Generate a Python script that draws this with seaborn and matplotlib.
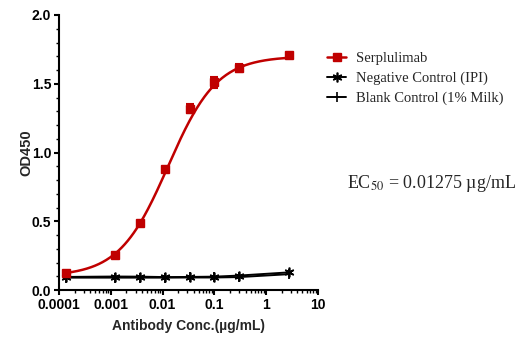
import numpy as np
import pandas as pd
import seaborn as sns
import matplotlib.pyplot as plt
from matplotlib.lines import Line2D
from matplotlib.ticker import LogLocator, MultipleLocator, FixedLocator, NullFormatter

# concentrations (ug/mL)
conc = [0.000137, 0.00123, 0.0037, 0.0111, 0.0333, 0.1, 0.3, 2.7]
serp = [0.125, 0.258, 0.489, 0.883, 1.32, 1.51, 1.615, 1.712]
serp_err = [0.01, 0.012, 0.012, 0.012, 0.03, 0.04, 0.03, 0.015]
neg_ctrl = [0.095, 0.098, 0.097, 0.094, 0.095, 0.097, 0.105, 0.128]
blank_ctrl = [0.090, 0.090, 0.090, 0.090, 0.091, 0.091, 0.094, 0.115]

# 4PL fit parameters for Serplulimab
bottom, top, ec50, hill = 0.10, 1.70, 0.01275, 0.92

red = '#c00000'

sns.set_style('ticks')
plt.rcParams['font.family'] = ['Liberation Sans', 'DejaVu Sans']

fig = plt.figure(figsize=(5.23, 3.5), dpi=100)
ax = fig.add_axes([59 / 523, 1 - 290 / 350, (318 - 59) / 523, (290 - 15) / 350])

xs = np.logspace(np.log10(conc[0]), np.log10(conc[-1]), 300)
fit = pd.DataFrame({'x': xs, 'y': bottom + (top - bottom) / (1 + (ec50 / xs) ** hill)})
sns.lineplot(data=fit, x='x', y='y', ax=ax, color=red, lw=1.8)

df = pd.DataFrame({'conc': conc, 'serp': serp, 'neg': neg_ctrl, 'blank': blank_ctrl})
sns.lineplot(data=df, x='conc', y='blank', ax=ax, color='black', lw=1.4,
             marker='|', markersize=7, markeredgewidth=1.3, markeredgecolor='black')
sns.lineplot(data=df, x='conc', y='neg', ax=ax, color='black', lw=1.4,
             marker=(6, 2, 0), markersize=7, markeredgewidth=1.2, markeredgecolor='black')
ax.errorbar(conc, serp, yerr=serp_err, fmt='s', color=red, ms=6,
            elinewidth=1.5, capsize=3, capthick=1.5)

ax.set_xscale('log')
ax.set_xlim(0.0001, 10)
ax.set_ylim(0, 2.0)
ax.xaxis.set_major_locator(FixedLocator([0.0001, 0.001, 0.01, 0.1, 1, 10]))
ax.set_xticklabels(['0.0001', '0.001', '0.01', '0.1', '1', '10'])
ax.xaxis.set_minor_locator(LogLocator(base=10, subs=np.arange(2, 10)))
ax.xaxis.set_minor_formatter(NullFormatter())
ax.yaxis.set_major_locator(MultipleLocator(0.5))
ax.yaxis.set_minor_locator(MultipleLocator(0.1))
ax.set_yticklabels([f'{v:.1f}' for v in ax.get_yticks()])

for s in ['top', 'right']:
    ax.spines[s].set_visible(False)
for s in ['left', 'bottom']:
    ax.spines[s].set_linewidth(1.5)
    ax.spines[s].set_color('black')
ax.tick_params(which='major', length=3.5, width=1.5, colors='black', labelsize=10, pad=2)
ax.tick_params(which='minor', length=2, width=1.0, colors='black')
for lab in ax.get_xticklabels() + ax.get_yticklabels():
    lab.set_fontweight('bold')

ax.set_xlabel('Antibody Conc.(µg/mL)', fontsize=10, fontweight='bold', labelpad=5)
ax.set_ylabel('OD450', fontsize=10.5, fontweight='bold', labelpad=-1)

handles = [
    Line2D([], [], color=red, marker='s', ms=6, lw=1.8),
    Line2D([], [], color='black', marker=(6, 2, 0), ms=7, mew=1.2, lw=1.4),
    Line2D([], [], color='black', marker='|', ms=7, mew=1.2, lw=1.4),
]
labels = ['Serplulimab', 'Negative Control (IPI)', 'Blank Control (1% Milk)']
fig.legend(handles, labels, loc='upper left', bbox_to_anchor=(314 / 523, 1 - 39 / 350),
           frameon=False, prop={'family': 'Liberation Serif', 'size': 10.5},
           handlelength=1.3, labelspacing=0.45, handletextpad=0.7)

fig.text(347 / 523, 1 - 183 / 350, 'EC$_{50}$ = 0.01275 µg/mL', family='Liberation Serif',
         fontsize=13, va='center', math_fontfamily='stix')

fig.savefig('out.png', dpi=100)
